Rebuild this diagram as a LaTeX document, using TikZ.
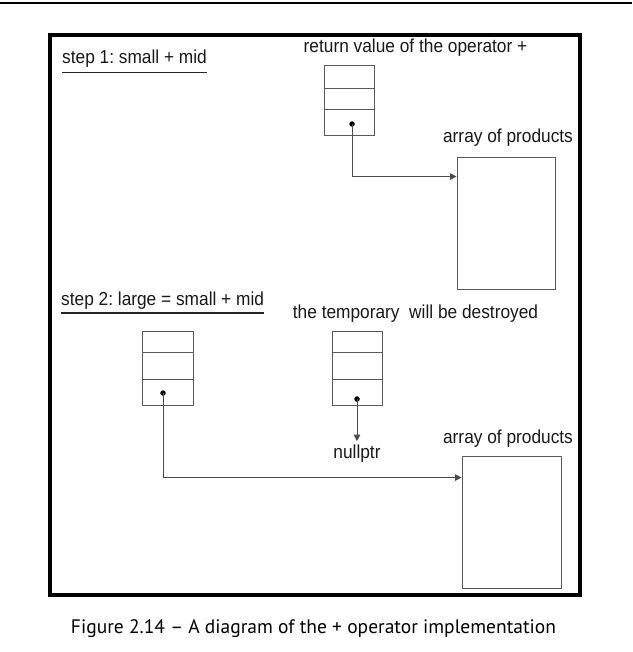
\documentclass[tikz,border=0pt]{standalone}
\usepackage{fontspec}
\setmainfont{Liberation Sans}
\newfontfamily\dfont[FakeStretch=0.92]{Liberation Sans}
\newfontfamily\capfont{PT Sans}
\usetikzlibrary{arrows.meta,calc}
\frenchspacing
\begin{document}
\begin{tikzpicture}[x=1pt,y=-1pt,
  lbl/.style={inner sep=0pt, font=\dfont\fontsize{18.8}{22}\selectfont, text=black!90},
  cell/.style={draw=black!65, line width=0.9pt},
  stackbox/.style={draw=black!65, line width=0.9pt, minimum width=50pt, inner sep=0pt},
  arraybox/.style={draw=black!65, line width=0.9pt, inner sep=0pt},
  conn/.style={draw=black!70, line width=1pt, -{Triangle[length=6.5pt,width=6.5pt]}},
  ptr/.style={circle, fill=black, inner sep=0pt, minimum size=5.5pt},
  uline/.style={line width=1.5pt, black!85},
]
\useasboundingbox (0,0) rectangle (632,652);
\fill[white] (0,0) rectangle (632,652);
\draw[line width=1.5pt] (0,3) -- (632,3);
\draw[line width=4pt] (50,35) rectangle (580,595);

% step 1
\node[lbl, anchor=base west] (t1) at (62,64) {step 1: small + mid};
\draw[uline] ([yshift=-8.7pt]t1.base west) -- ([yshift=-8.7pt]t1.base east);
\node[lbl, anchor=base] (r1) at (415.5,52.5) {return value of the operator +};
\node[stackbox, minimum height=70pt] (s1) at (349.5,100) {};
\draw[cell] ($(s1.north west)+(0,24)$) -- ($(s1.north east)+(0,24)$);
\draw[cell] ($(s1.north west)+(0,45)$) -- ($(s1.north east)+(0,45)$);
\node[ptr] (d1) at (352,124) {};
\node[lbl, anchor=base] (p1) at (508,143) {array of products};
\node[arraybox, minimum width=98pt, minimum height=132pt] (a1) at (506,223) {};
\draw[conn] (d1.center) |- ([yshift=-20pt]a1.north west);

% step 2
\node[lbl, anchor=base west] (t2) at (61,305) {step 2: large = small + mid};
\draw[uline] ([yshift=-8pt]t2.base west) -- ([yshift=-8pt]t2.base east);
\node[lbl, anchor=base] (tmp) at (415.5,318) {the temporary\ \ will be destroyed};
\node[stackbox, minimum width=51pt, minimum height=74pt] (s2) at (167.5,368) {};
\draw[cell] ($(s2.north west)+(0,22)$) -- ($(s2.north east)+(0,22)$);
\draw[cell] ($(s2.north west)+(0,49)$) -- ($(s2.north east)+(0,49)$);
\node[ptr] (d2) at (163,393) {};
\node[stackbox, minimum height=74pt] (s3) at (357,368) {};
\draw[cell] ($(s3.north west)+(0,22)$) -- ($(s3.north east)+(0,22)$);
\draw[cell] ($(s3.north west)+(0,49)$) -- ($(s3.north east)+(0,49)$);
\node[ptr] (d3) at (357,399) {};
\node[lbl, anchor=base, inner sep=3pt] (np) at (357,458) {nullptr};
\draw[conn] (d3.center) -- (np.north);
\node[lbl, anchor=base] (p2) at (508,443) {array of products};
\node[arraybox, minimum width=99pt, minimum height=132pt] (a2) at (511.5,522) {};
\draw[conn] (d2.center) |- ([yshift=-22pt]a2.north west);

% caption
\node[anchor=base, inner sep=0pt, font=\capfont\fontsize{19.5}{22}\selectfont] (cap) at (313.5,633) {Figure 2.14 – A diagram of the + operator implementation};
\end{tikzpicture}
\end{document}
